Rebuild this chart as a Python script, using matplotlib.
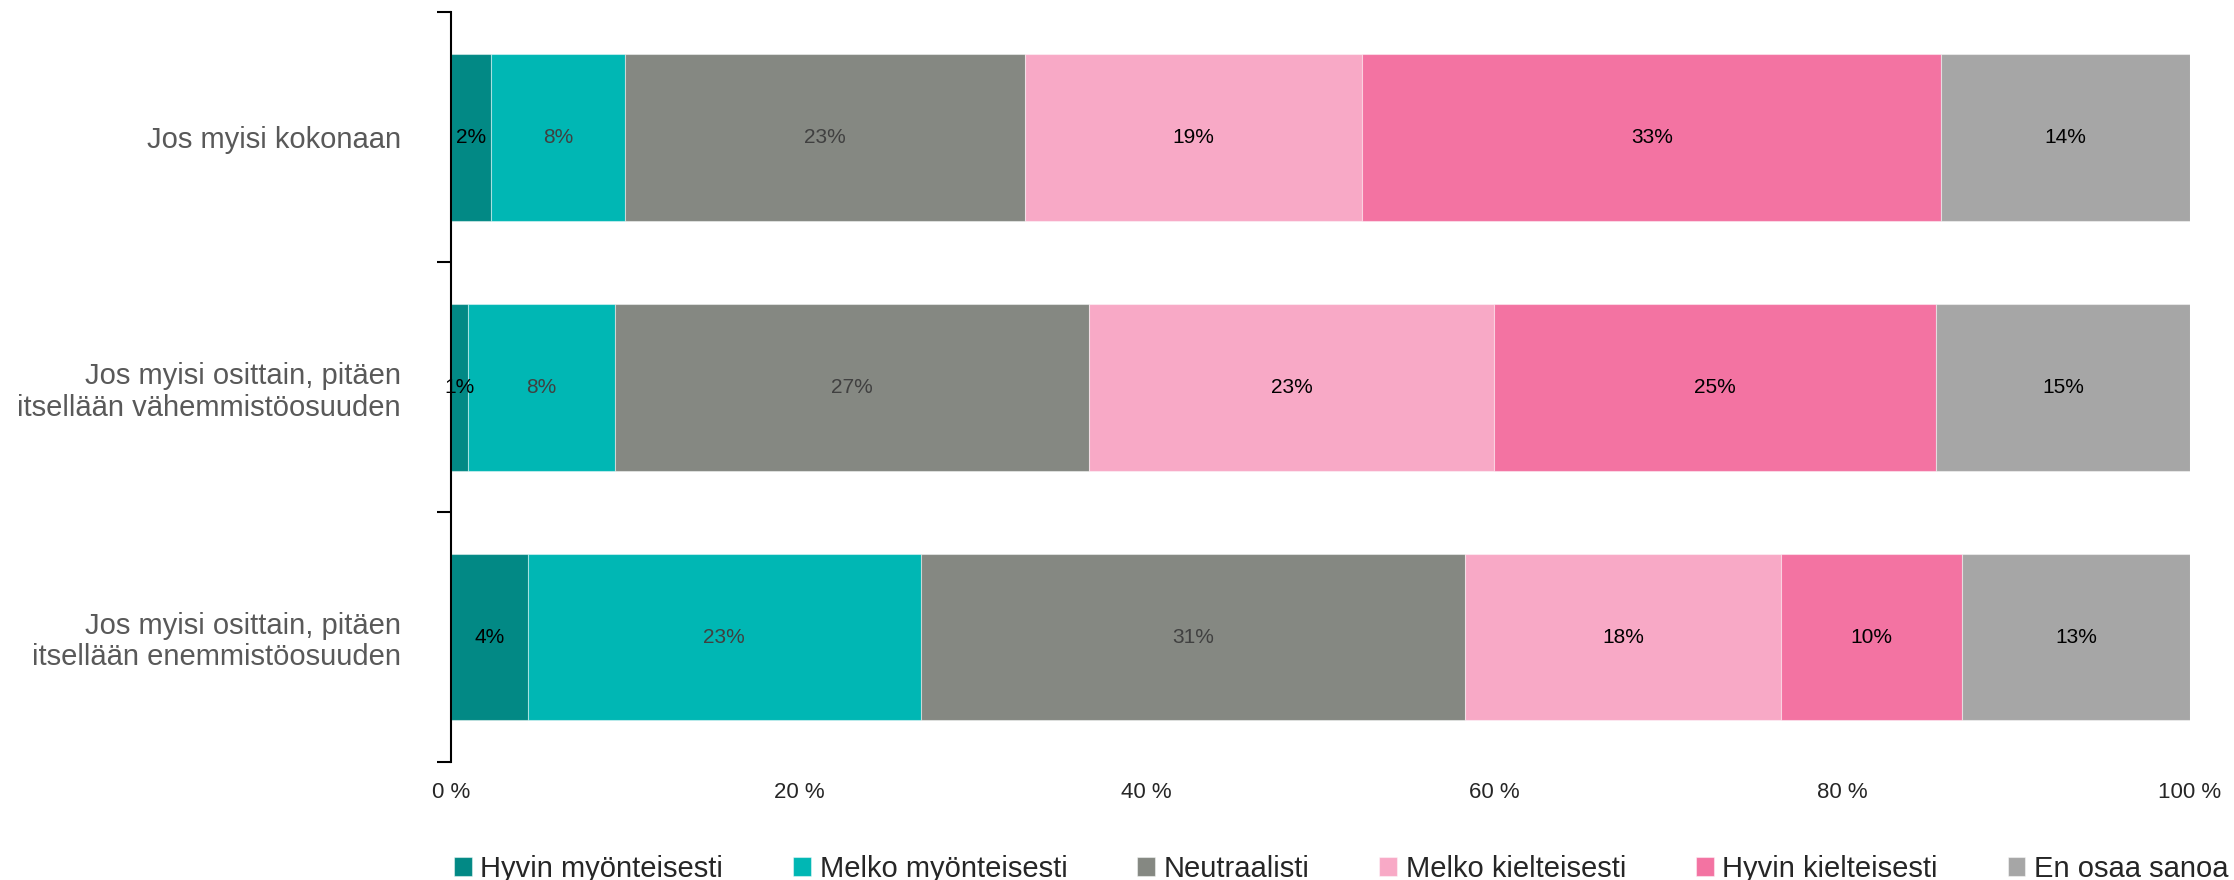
import matplotlib
matplotlib.use("Agg")
import matplotlib.pyplot as plt
import numpy as np

plt.rcParams['font.family'] = ['Liberation Sans', 'DejaVu Sans']

# kategoriat ylhäältä alas
categories = ["Jos myisi kokonaan",
              "Jos myisi osittain, pitäen\nitsellään vähemmistöosuuden",
              "Jos myisi osittain, pitäen\nitsellään enemmistöosuuden"]
series = ["Hyvin myönteisesti", "Melko myönteisesti", "Neutraalisti",
          "Melko kielteisesti", "Hyvin kielteisesti", "En osaa sanoa"]

hyvin_myont = [2.3, 1.0, 4.4]
melko_myont = [7.7, 8.4, 22.6]
neutraali = [23.0, 27.3, 31.3]
melko_kielt = [19.4, 23.3, 18.2]
hyvin_kielt = [33.3, 25.4, 10.4]
en_osaa = [14.3, 14.6, 13.1]

values = [hyvin_myont, melko_myont, neutraali, melko_kielt, hyvin_kielt, en_osaa]
colors = ["#028985", "#00B7B4", "#858882", "#F8A9C6", "#F373A2", "#A6A6A6"]
label_colors = ["#000000", "#404040", "#404040", "#000000", "#000000", "#000000"]

fig = plt.figure(figsize=(22.34, 8.8), dpi=100)
ax = fig.add_axes([0.2019, 0.134, 0.7784, 0.852])

y = np.arange(len(categories))
left = np.zeros(len(categories))
for vals, c, lc, name in zip(values, colors, label_colors, series):
    vals = np.array(vals)
    bars = ax.barh(y, vals, left=left, height=0.667, color=c, label=name,
                   edgecolor=(1, 1, 1, 0.45), linewidth=0.8)
    ax.bar_label(bars, labels=[f"{v:.0f}%" for v in vals], label_type='center',
                 color=lc, fontsize=15)
    left += vals

ax.set_xlim(0, 100)
ax.set_ylim(2.5, -0.5)
ax.set_xticks([0, 20, 40, 60, 80, 100])
ax.set_xticklabels(["0 %", "20 %", "40 %", "60 %", "80 %", "100 %"])
ax.tick_params(axis='x', length=0, pad=14, labelsize=16, labelcolor="#262626")

ax.set_yticks([-0.5, 0.5, 1.5, 2.5])
ax.set_yticklabels([])
ax.set_yticks(y, minor=True)
ax.set_yticklabels(categories, minor=True, fontsize=21, color="#595959",
                   linespacing=1.15)
ax.tick_params(axis='y', which='major', length=10, width=1.5, direction='out')
ax.tick_params(axis='y', which='minor', length=0, pad=36)

for s in ['top', 'right', 'bottom']:
    ax.spines[s].set_visible(False)
ax.spines['left'].set_linewidth(1.5)

ax.legend(loc='center', bbox_to_anchor=(0.512, -0.142), ncol=6, frameon=False,
          fontsize=21, handlelength=0.6, handleheight=0.6, handletextpad=0.3,
          columnspacing=2.4, labelcolor="#262626")

fig.savefig("out.png", dpi=100)
